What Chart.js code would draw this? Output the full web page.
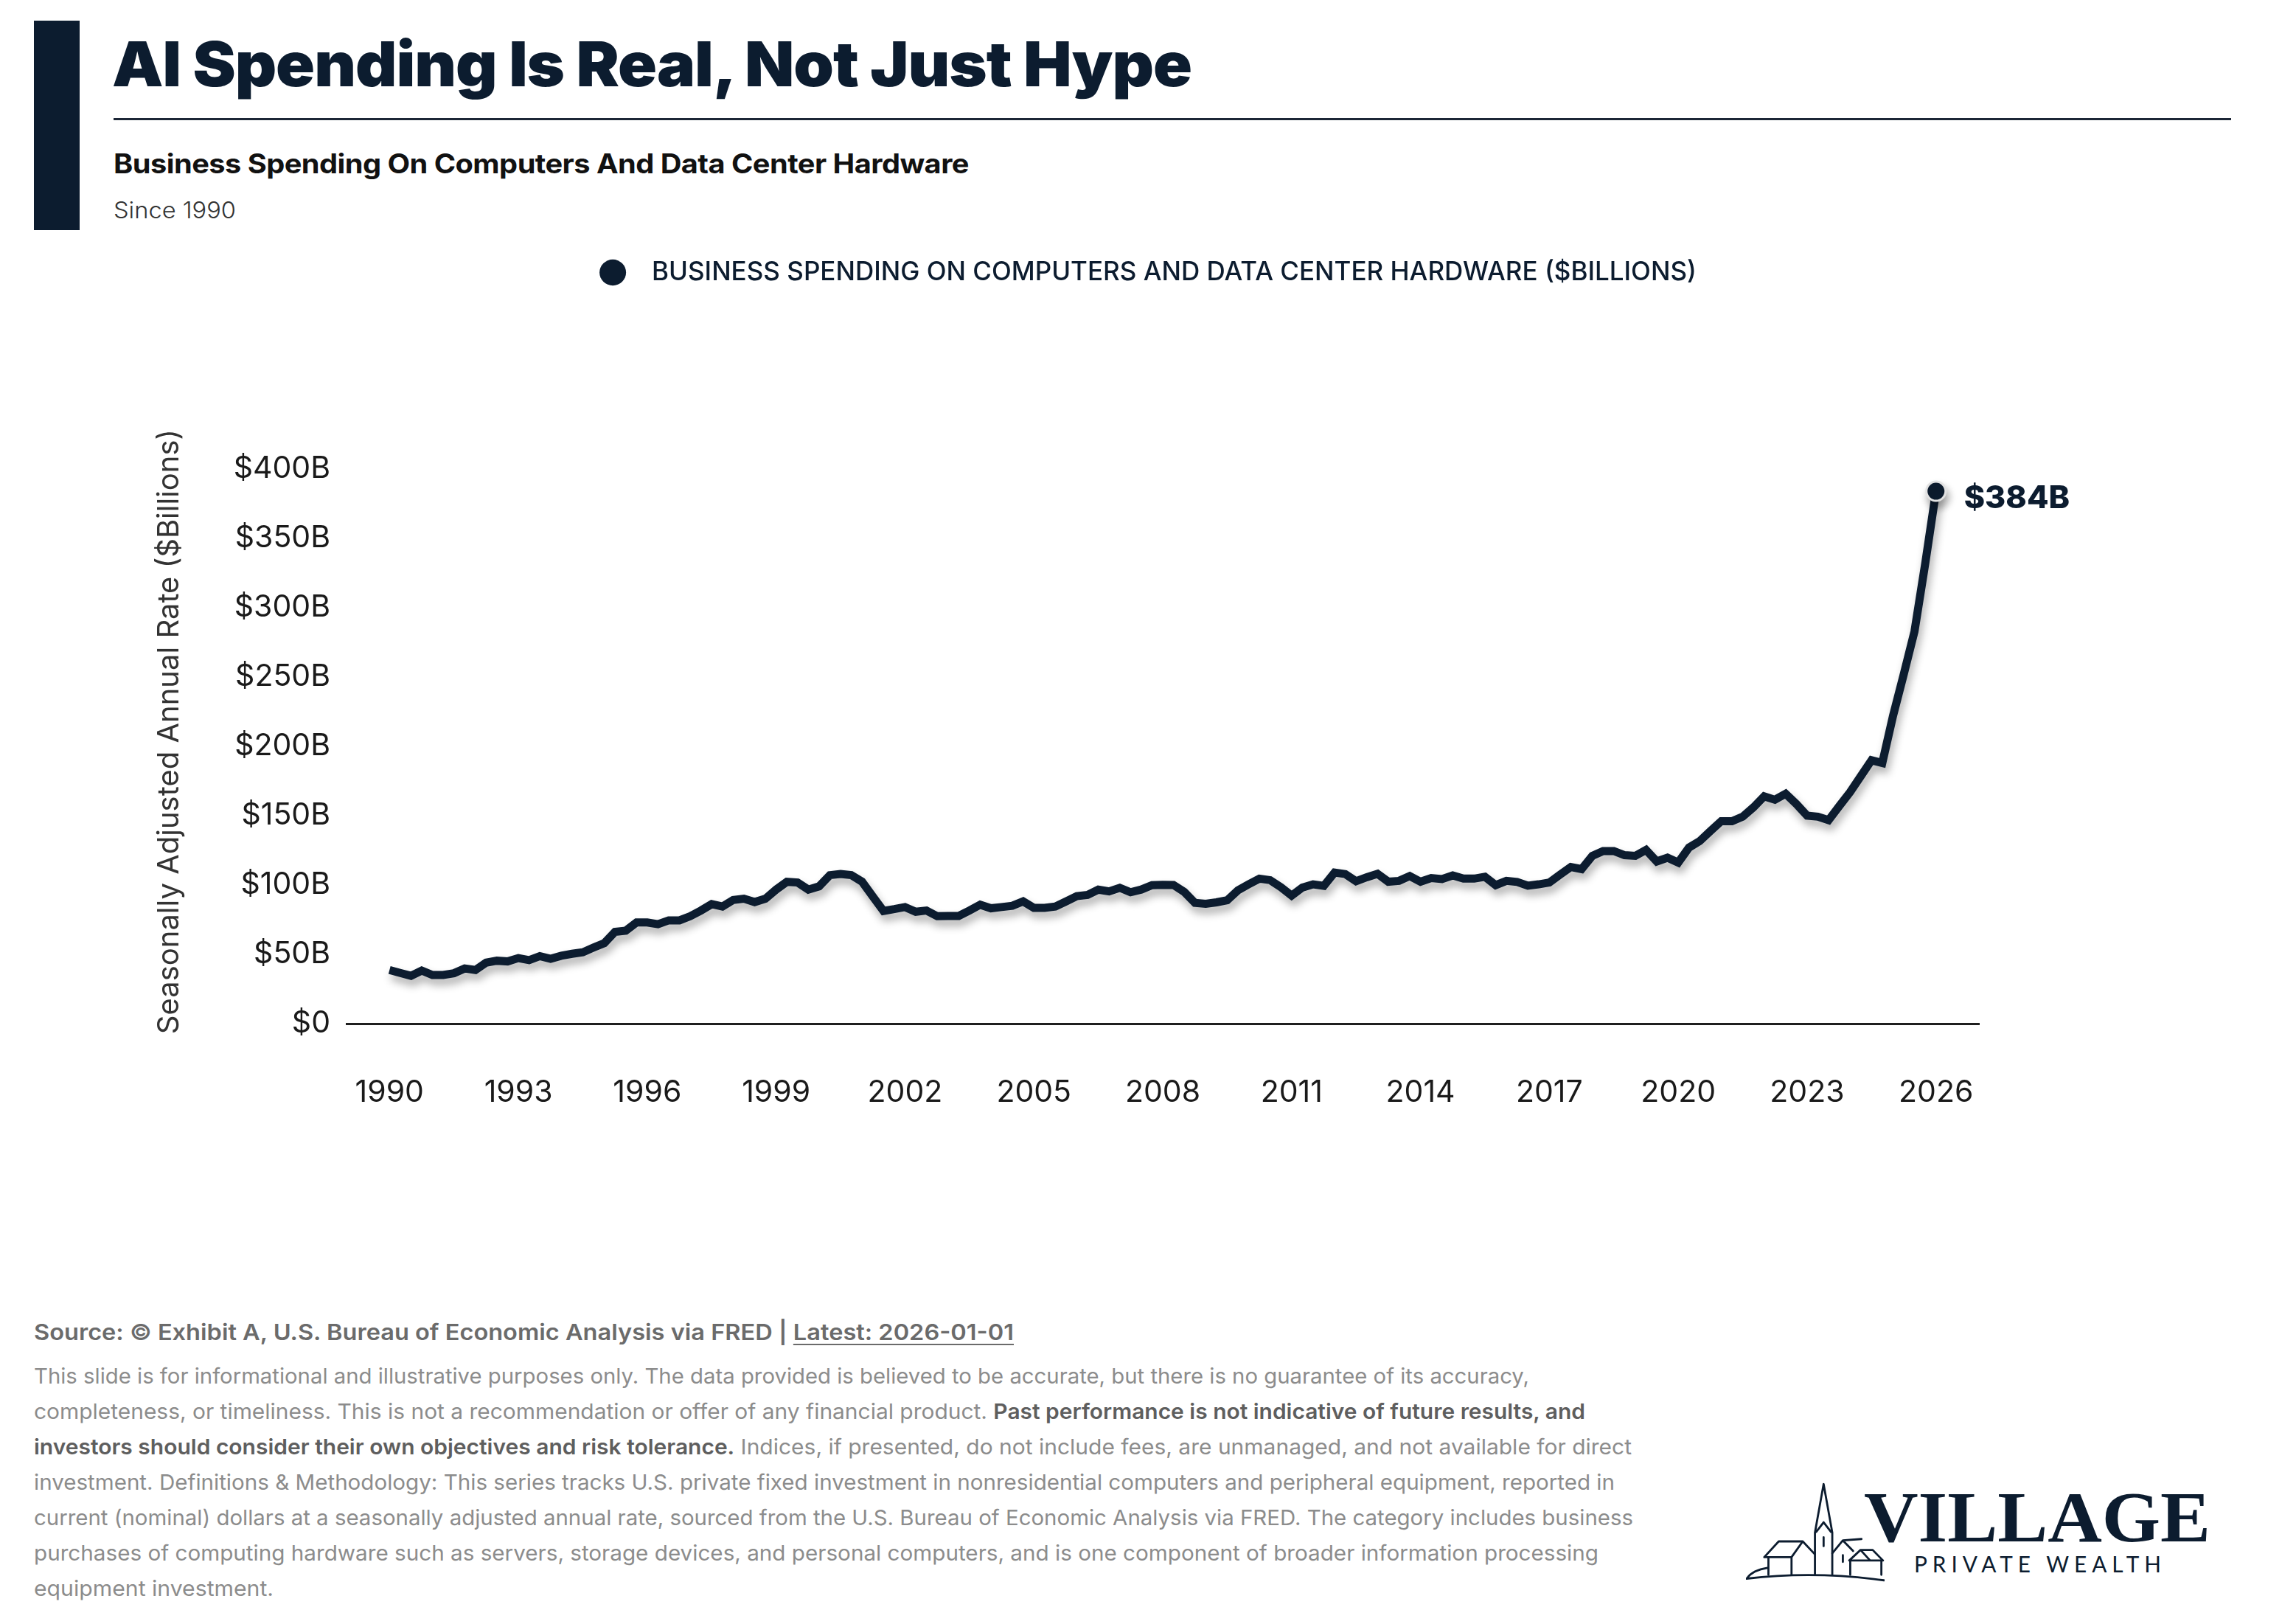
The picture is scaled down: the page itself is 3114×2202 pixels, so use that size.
<!DOCTYPE html>
<html>
<head>
<meta charset="utf-8">
<script src="https://cdn.jsdelivr.net/npm/chart.js@4.4.1/dist/chart.umd.min.js"></script>
<style>
  html, body { margin: 0; padding: 0; background: #fff; }
  body { width: 3114px; height: 2202px; position: relative; overflow: hidden; font-family: Inter, "Noto Sans", sans-serif; color: #0c1c2f; }
  .abs { position: absolute; white-space: nowrap; line-height: 1; }
  .fit { display: inline-block; transform-origin: 0 50%; white-space: nowrap; }
  #bar { left: 46px; top: 28px; width: 62px; height: 284px; background: #0c1c2f; }
  #title { left: 152px; top: 45px; font-size: 84px; font-weight: 900; letter-spacing: -1px; color: #0c1c2f; }
  #rule { left: 154px; top: 160px; width: 2872px; height: 3px; background: #1c2636; }
  #subtitle { left: 154px; top: 203px; font-size: 37px; font-weight: 700; color: #111; letter-spacing: -0.5px; }
  #since { left: 154px; top: 269px; font-size: 31px; font-weight: 300; color: #333; }
  #chartBox { position: absolute; left: 0; top: 342px; width: 3114px; height: 1200px; }
  #source { left: 46px; top: 1791px; font-size: 30px; font-weight: 600; color: #6b6b6b; }
  #source u { text-decoration-thickness: 2px; text-underline-offset: 5px; }
  .disc { left: 46px; font-size: 29px; color: #8c8c8c; }
  .disc b { font-weight: 600; color: #5e5e5e; }
  #village { left: 2528px; top: 2009px; font-family: "Liberation Serif", "DejaVu Serif", serif; font-size: 97px; font-weight: 700; color: #0c1c2f; }
  #wealth { left: 2596px; top: 2105px; font-family: Lato, "Open Sans", sans-serif; font-size: 30px; font-weight: 400; letter-spacing: 7px; color: #0c1c2f; }
  #icon { position: absolute; left: 2368px; top: 2010px; width: 188px; height: 136px; }
</style>
</head>
<body>
<div id="bar" class="abs"></div>
<div id="title" class="abs"><span class="fit" data-w="1464">AI Spending Is Real, Not Just Hype</span></div>
<div id="rule" class="abs"></div>
<div id="subtitle" class="abs"><span class="fit" data-w="1160">Business Spending On Computers And Data Center Hardware</span></div>
<div id="since" class="abs"><span class="fit" data-w="166">Since 1990</span></div>

<div id="chartBox"><canvas id="myChart"></canvas></div>

<div id="source" class="abs"><span class="fit" data-w="1329">Source: © Exhibit A, U.S. Bureau of Economic Analysis via FRED | <u>Latest: 2026-01-01</u></span></div>
<div class="abs disc" style="top:1851px"><span class="fit" data-w="2028">This slide is for informational and illustrative purposes only. The data provided is believed to be accurate, but there is no guarantee of its accuracy,</span></div>
<div class="abs disc" style="top:1899px"><span class="fit" data-w="2104">completeness, or timeliness. This is not a recommendation or offer of any financial product. <b>Past performance is not indicative of future results, and</b></span></div>
<div class="abs disc" style="top:1947px"><span class="fit" data-w="2167"><b>investors should consider their own objectives and risk tolerance.</b> Indices, if presented, do not include fees, are unmanaged, and not available for direct</span></div>
<div class="abs disc" style="top:1995px"><span class="fit" data-w="2144">investment. Definitions &amp; Methodology: This series tracks U.S. private fixed investment in nonresidential computers and peripheral equipment, reported in</span></div>
<div class="abs disc" style="top:2043px"><span class="fit" data-w="2169">current (nominal) dollars at a seasonally adjusted annual rate, sourced from the U.S. Bureau of Economic Analysis via FRED. The category includes business</span></div>
<div class="abs disc" style="top:2091px"><span class="fit" data-w="2122">purchases of computing hardware such as servers, storage devices, and personal computers, and is one component of broader information processing</span></div>
<div class="abs disc" style="top:2139px"><span class="fit" data-w="325">equipment investment.</span></div>

<svg id="icon" viewBox="18 25 432 420" preserveAspectRatio="none" fill="none" stroke="#0c1c2f" stroke-width="2.8" stroke-linejoin="round" stroke-linecap="round">
  <path vector-effect="non-scaling-stroke" d="M20,428 Q230,395 448,435"/>
  <path vector-effect="non-scaling-stroke" d="M22,425 Q40,392 85,383"/>
  <path vector-effect="non-scaling-stroke" d="M75,338 L120,272 L195,272 L232,325 M160,338 L195,272 M75,338 L160,338 M88,340 L88,412 M160,340 L160,412"/>
  <path vector-effect="non-scaling-stroke" d="M233,410 L233,235 L260,32 L287,235 L287,410 M237,232 L260,192 L283,232 M260,255 L260,292"/>
  <path vector-effect="non-scaling-stroke" d="M287,322 L320,268 L352,312 M320,268 L378,262 M320,330 L320,358"/>
  <path vector-effect="non-scaling-stroke" d="M340,352 L375,308 L413,308 L445,352 M375,308 L405,352 M340,352 L445,352 M343,352 L343,412 M440,352 L440,412"/>
</svg>
<div id="village" class="abs"><span class="fit" data-w="470">VILLAGE</span></div>
<div id="wealth" class="abs"><span class="fit" data-w="342">PRIVATE WEALTH</span></div>

<script>
// Quarterly values, $ billions (SAAR). First quarter = 1990 Q1.
const FIRST_YEAR = 1990;
const spend1990s = [
  38.7, 36.6, 34.5, 38.3,   35.1, 35.1, 36.4, 39.8,   38.7, 44.0, 45.4, 44.9,
  47.3, 45.8, 48.7, 46.8,   49.0, 50.4, 51.5, 54.9,   58.1, 66.2, 67.1, 73.0,
  73.0, 71.7, 74.5, 74.5,   77.5, 81.6, 86.2, 84.5,   89.2, 90.1, 87.7, 90.1,
  96.7, 102.3, 101.8, 96.7
];
const spend2000s = [
  99.0, 107.1, 108.0, 107.1, 102.4, 91.8, 81.3, 82.6,  84.1, 80.7, 81.6, 77.5,
  77.7, 77.7, 81.6, 85.8,    83.2, 84.1, 85.0, 88.2,   83.5, 83.5, 84.5, 88.2,
  92.0, 92.9, 96.7, 95.4,    98.0, 94.8, 96.7, 99.9,   100.1, 100.0, 95.0, 87.1,
  86.5, 87.5, 89.0, 96.2
];
const spend2010s = [
  100.5, 104.6, 103.5, 98.4, 92.4, 98.2, 100.5, 99.4,  109.0, 107.9, 102.7, 105.6,
  108.1, 102.4, 103.0, 106.5, 102.4, 105.0, 104.3, 106.9, 104.6, 104.6, 105.9, 99.9,
  103.0, 102.2, 99.5, 100.5, 101.8, 107.5, 113.0, 111.5, 121.0, 124.5, 124.5, 121.5,
  121.0, 125.3, 117.0, 119.7
];
const spend2020s = [
  116.2, 127.0, 131.7, 139.0, 146.0, 146.0, 149.3, 156.0, 164.0, 161.5, 165.8, 158.4,
  150.0, 149.3, 146.8, 157.0, 167.0, 178.5, 190.0, 188.0, 222.0, 252.0, 283.0, 332.0,
  384.0
];
const spending = spend1990s.concat(spend2000s, spend2010s, spend2020s);

const tickYears = [1990, 1993, 1996, 1999, 2002, 2005, 2008, 2011, 2014, 2017, 2020, 2023, 2026];
const yTicks = [0, 50, 100, 150, 200, 250, 300, 350, 400];

const SERIES_LABEL = 'BUSINESS SPENDING ON COMPUTERS AND DATA CENTER HARDWARE ($BILLIONS)';
const Y_TITLE = 'Seasonally Adjusted Annual Rate ($Billions)';
const NAVY = '#0c1c2f';
const FONT = 'Inter, "Noto Sans", sans-serif';

const points = spending.map((v, i) => ({ x: FIRST_YEAR + i / 4, y: v }));
const lastIndex = points.length - 1;

// soft drop shadow under the line
const lineShadow = {
  id: 'lineShadow',
  beforeDatasetDraw(chart) {
    const ctx = chart.ctx;
    ctx.save();
    ctx.shadowColor = 'rgba(0, 0, 0, 0.32)';
    ctx.shadowBlur = 12;
    ctx.shadowOffsetX = 3;
    ctx.shadowOffsetY = 8;
  },
  afterDatasetDraw(chart) {
    chart.ctx.restore();
  }
};

// "$384B" tag next to the last point
const lastLabel = {
  id: 'lastLabel',
  afterDatasetsDraw(chart) {
    const pt = chart.getDatasetMeta(0).data[lastIndex];
    if (!pt) return;
    const ctx = chart.ctx;
    ctx.save();
    ctx.font = '800 43px ' + FONT;
    ctx.fillStyle = NAVY;
    ctx.textAlign = 'left';
    ctx.textBaseline = 'middle';
    ctx.fillText('$' + Math.round(spending[lastIndex]) + 'B', pt.x + 38, pt.y + 10);
    ctx.restore();
  }
};

// leave room between the legend and the plot
const legendSpace = {
  id: 'legendSpace',
  beforeInit(chart) {
    const fit = chart.legend.fit;
    chart.legend.fit = function () {
      fit.bind(chart.legend)();
      this.height = 294;
    };
  }
};

const config = {
  type: 'line',
  data: {
    datasets: [{
      label: SERIES_LABEL,
      data: points,
      borderColor: NAVY,
      backgroundColor: NAVY,
      borderWidth: 11,
      tension: 0,
      clip: false,
      pointRadius: (c) => c.dataIndex === lastIndex ? 13 : 0,
      pointHoverRadius: 0,
      pointBackgroundColor: NAVY,
      pointBorderColor: '#e2e2e2',
      pointBorderWidth: 3,
      yAxisID: 'y'
    }]
  },
  options: {
    responsive: true,
    maintainAspectRatio: false,
    animation: false,
    layout: { padding: 0 },
    scales: {
      x: {
        type: 'linear',
        min: 1989,
        max: 2027,
        afterBuildTicks: (scale) => { scale.ticks = tickYears.map(v => ({ value: v })); },
        afterFit: (scale) => { scale.height = 154; },
        grid: { display: false, drawTicks: false },
        border: { display: true, color: '#1f1f1f', width: 3 },
        ticks: {
          padding: 69,
          maxRotation: 0,
          autoSkip: false,
          color: '#1a1a1a',
          font: { family: FONT, size: 41 },
          callback: (v) => String(v)
        }
      },
      y: {
        position: 'left',
        min: 0,
        max: 400,
        afterBuildTicks: (scale) => { scale.ticks = yTicks.map(v => ({ value: v })); },
        afterFit: (scale) => { scale.width = 470; },
        grid: { display: false, drawTicks: false },
        border: { display: false },
        ticks: {
          padding: 22,
          color: '#1a1a1a',
          font: { family: FONT, size: 41 },
          callback: (v) => v === 0 ? '$0' : '$' + v + 'B'
        },
        title: {
          display: true,
          // leading em space nudges the rotated title up a little
          text: '\u2003' + Y_TITLE,
          color: '#333',
          font: { family: FONT, size: 40 },
          padding: { top: 206, bottom: 0 }
        }
      },
      yRight: {
        position: 'right',
        display: true,
        min: 0,
        max: 1,
        afterFit: (scale) => { scale.width = 430; },
        grid: { display: false, drawTicks: false },
        border: { display: false },
        ticks: { display: false }
      }
    },
    plugins: {
      legend: {
        display: true,
        position: 'top',
        align: 'center',
        labels: {
          usePointStyle: true,
          pointStyle: 'circle',
          pointStyleWidth: 36,
          boxHeight: 25,
          padding: 10,
          color: NAVY,
          font: { family: FONT, size: 35, weight: '500' },
          generateLabels: (chart) => Chart.defaults.plugins.legend.labels.generateLabels(chart)
            .map(l => Object.assign(l, { text: '\u2002' + l.text, lineWidth: 0 }))
        }
      },
      tooltip: { enabled: false }
    }
  },
  plugins: [lineShadow, lastLabel, legendSpace]
};

function fitTexts() {
  document.querySelectorAll('.fit').forEach(el => {
    const target = parseFloat(el.dataset.w);
    const natural = el.getBoundingClientRect().width;
    if (natural > 0) el.style.transform = 'scaleX(' + (target / natural) + ')';
  });
}

const ctx = document.getElementById('myChart').getContext('2d');
const myChart = new Chart(ctx, config);
document.fonts.ready.then(fitTexts);
</script>
</body>
</html>
